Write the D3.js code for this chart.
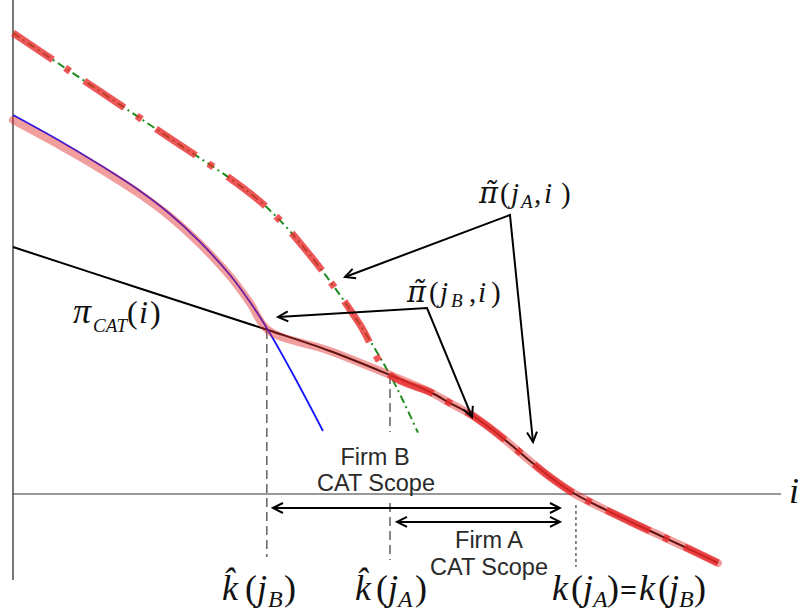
<!DOCTYPE html>
<html><head><meta charset="utf-8">
<script src="https://cdn.jsdelivr.net/npm/d3@7"></script>
<style>body{margin:0;background:#fff}svg{display:block}</style>
</head><body>
<svg id="chart" width="804" height="616"></svg>
<script>
// ---- data (model units: i on x, profit on y) ----
const catI   = [0, 16.54, 33.20, 41.28, 49.09, 54.30, 56.90, 59.51, 62.11, 64.71, 67.32, 69.92, 73.18, 76.43, 80.34, 84.24, 88.15, 91.80];
const catPi  = [32.5, 27.04, 21.58, 18.82, 15.66, 13.42, 11.97, 10.53, 8.68, 6.58, 4.34, 2.24, 0, -1.71, -3.62, -5.46, -7.30, -9.08];
const firmBI  = [0, 6.12, 11.33, 16.54, 20.44, 24.35, 28.26, 30.86, 33.20, 36.72, 40.36];
const firmBPi = [49.87, 46.45, 43.29, 39.87, 36.84, 33.16, 28.82, 25.26, 21.58, 15.26, 8.29];
const bandBI  = [0, 6.12, 11.33, 16.54, 20.44, 24.35, 28.26, 30.86, 33.20];
const bandBPi = [49.2, 45.85, 42.8, 39.45, 36.5, 32.9, 28.65, 25.15, 21.58];
const firmAI  = [0, 6.12, 13.93, 21.74, 28.26, 32.16, 34.77, 37.37, 41.28, 45.18, 49.09, 51.04, 52.73];
const firmAPi = [60.66, 56.51, 51.22, 45.93, 41.53, 38.50, 36.0, 33.04, 28.0, 22.28, 15.66, 11.75, 8.07];
const kHatB = 33.20, kHatA = 49.09, kCross = 73.3;

const svg = d3.select("#chart");
const x = d3.scaleLinear().domain([0, 100]).range([13, 781]);
const y = d3.scaleLinear().domain([0, 65]).range([494, 0]);
const line = d3.line().x(d => x(d[0])).y(d => y(d[1])).curve(d3.curveCatmullRom.alpha(0.5));
const zip = (a, b) => a.map((v, i) => [v, b[i]]);

const cat = zip(catI, catPi);
const firmB = zip(firmBI, firmBPi);
const firmA = zip(firmAI, firmAPi);
const bandB = zip(bandBI, bandBPi).concat(cat.filter(d => d[0] > kHatB));
const redA = firmA.filter(d => d[0] <= kHatA).concat(cat.filter(d => d[0] > kHatA));

// markers
const defs = svg.append("defs");
defs.append("marker").attr("id", "arr").attr("viewBox", "-12 -7 14 14")
  .attr("refX", 0).attr("refY", 0).attr("markerWidth", 14).attr("markerHeight", 14)
  .attr("markerUnits", "userSpaceOnUse").attr("orient", "auto-start-reverse")
  .append("path").attr("d", "M-10,-5 L0,0 L-10,5").attr("fill", "none")
  .attr("stroke", "#000").attr("stroke-width", 2);

// axes
svg.append("line").attr("x1", x(0)).attr("x2", x(0)).attr("y1", y(65)).attr("y2", y(-11.3))
  .attr("stroke", "#777").attr("stroke-width", 2);
svg.append("line").attr("x1", x(0)).attr("x2", x(100)).attr("y1", y(0)).attr("y2", y(0))
  .attr("stroke", "#333").attr("stroke-width", 1.2);

// dashed verticals
const vline = (u, v1, v2, dash) => svg.append("line").attr("x1", x(u)).attr("x2", x(u))
  .attr("y1", y(v1)).attr("y2", y(v2)).attr("stroke", "#555").attr("stroke-width", 1.4)
  .attr("stroke-dasharray", dash);
vline(kHatB - 0.15, 21.58, -8.3, "9,5");
vline(kHatA, 15.66, 8.16, "9,5");
vline(kHatA, -1.18, -8.68, "9,5");
vline(kCross, -1.45, -9.6, "3,3");

// base lines
svg.append("path").attr("d", line(cat)).attr("fill", "none").attr("stroke", "#000").attr("stroke-width", 2);
svg.append("path").attr("d", line(firmB)).attr("fill", "none").attr("stroke", "#1414ff").attr("stroke-width", 1.8);
svg.append("path").attr("d", line(firmA)).attr("fill", "none").attr("stroke", "#1e8c1e").attr("stroke-width", 2)
  .attr("stroke-dasharray", "8,4,2,4");

// translucent red overlays
svg.append("path").attr("d", line(bandB)).attr("fill", "none").attr("stroke", "rgba(225,40,40,0.45)")
  .attr("stroke-width", 8).attr("stroke-linecap", "round");
svg.append("path").attr("d", line(redA)).attr("fill", "none").attr("stroke", "rgba(232,40,40,0.78)")
  .attr("stroke-width", 7).attr("stroke-dasharray", "48,15,6,17");

// annotation arrows
const ann = (pts) => svg.append("path").attr("d", d3.line().x(d => x(d[0])).y(d => y(d[1]))(pts))
  .attr("fill", "none").attr("stroke", "#000").attr("stroke-width", 2)
  .attr("marker-start", "url(#arr)").attr("marker-end", "url(#arr)");
ann([[43.23, 28.55], [64.71, 36.71], [67.71, 6.84]]);
ann([[34.51, 23.29], [53.91, 24.47], [59.77, 10.13]]);
ann([[33.85, -1.84], [71.22, -1.84]]);
ann([[50.0, -3.68], [71.22, -3.68]]);

// sans labels
const sans = (tx, cx, cy) => svg.append("text").attr("x", cx).attr("y", cy).attr("text-anchor", "middle")
  .attr("font-family", "Liberation Sans, Arial, sans-serif").attr("font-size", 23.5).attr("fill", "#2a2a2a").text(tx);
sans("Firm B", 375, 465);
sans("CAT Scope", 376, 491);
sans("Firm A", 489, 548);
sans("CAT Scope", 489, 575);

// math labels
function math(x0, y0, size, parts) {
  const t = svg.append("text").attr("font-family", "Liberation Serif, 'Times New Roman', serif").attr("fill", "#111");
  parts.forEach(p => {
    const s = t.append("tspan").attr("x", x0 + p.dx).attr("y", y0 + (p.dy || 0))
      .attr("font-size", p.s || size).attr("font-style", p.it ? "italic" : "normal")
      .attr("font-weight", p.b ? "bold" : "normal").text(p.t);
    if (p.f) s.attr("font-family", p.f);
  });
}
math(479, 203, 29, [
  {t: "\u03C0\u0303", dx: 0, s: 29, it: true, f: "DejaVu Serif"},
  {t: "(", dx: 21}, {t: "j", dx: 32, it: true}, {t: "A", dx: 42, dy: 5, s: 19, it: true},
  {t: ",", dx: 55}, {t: "i", dx: 65, it: true}, {t: ")", dx: 82}]);
math(407, 302, 29, [
  {t: "\u03C0\u0303", dx: 0, s: 29, it: true, f: "DejaVu Serif"},
  {t: "(", dx: 22}, {t: "j", dx: 33, it: true}, {t: "B", dx: 44, dy: 5, s: 19, it: true},
  {t: ",", dx: 62}, {t: "i", dx: 71, it: true}, {t: ")", dx: 84}]);
math(73, 323, 32, [
  {t: "\u03C0", dx: 0, it: true, s: 36}, {t: "CAT", dx: 20, dy: 9, s: 19, it: true},
  {t: "(", dx: 54}, {t: "i", dx: 66, it: true}, {t: ")", dx: 77}]);
math(222, 600, 36, [
  {t: "k\u0302", dx: 0, it: true},
  {t: "(", dx: 23}, {t: "j", dx: 35, it: true}, {t: "B", dx: 46, dy: 7, s: 24, it: true}, {t: ")", dx: 62}]);
math(355, 600, 36, [
  {t: "k\u0302", dx: 0, it: true},
  {t: "(", dx: 21}, {t: "j", dx: 33, it: true}, {t: "A", dx: 43, dy: 7, s: 24, it: true}, {t: ")", dx: 60}]);
math(552, 600, 36, [
  {t: "k", dx: 0, it: true}, {t: "(", dx: 19}, {t: "j", dx: 31, it: true},
  {t: "A", dx: 41, dy: 7, s: 24, it: true}, {t: ")", dx: 55},
  {t: "=", dx: 68, s: 30, b: true}, {t: "k", dx: 87, it: true}, {t: "(", dx: 106}, {t: "j", dx: 117, it: true},
  {t: "B", dx: 127, dy: 7, s: 24, it: true}, {t: ")", dx: 142}]);
math(789, 503, 36, [{t: "i", dx: 0, it: true}]);
</script>
</body></html>
